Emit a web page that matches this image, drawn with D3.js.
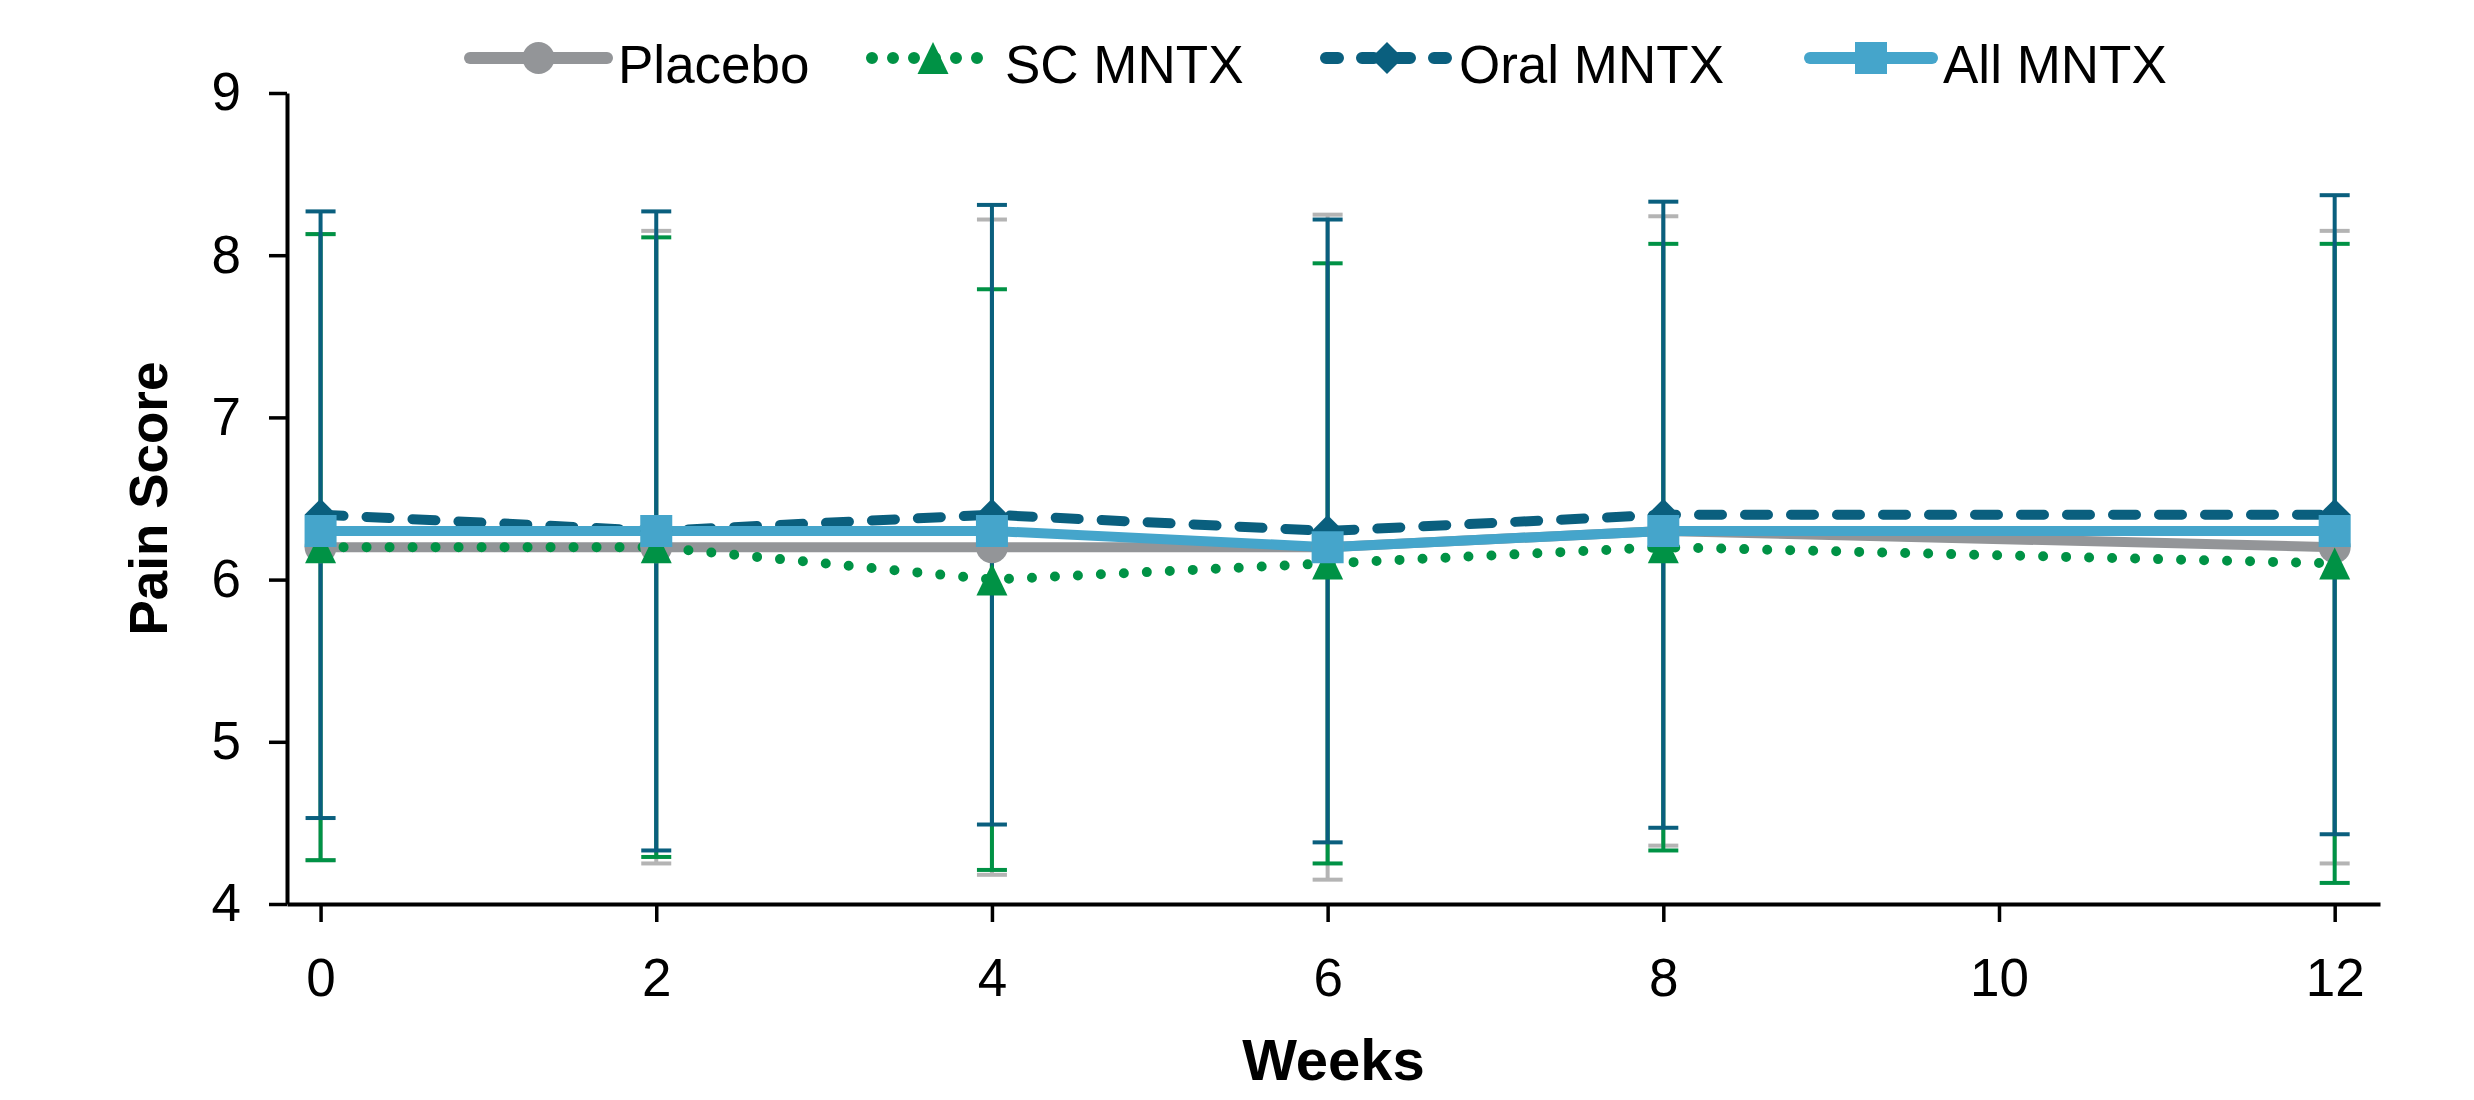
<!DOCTYPE html>
<html>
<head>
<meta charset="utf-8">
<script src="https://cdn.jsdelivr.net/npm/d3@7"></script>
<style>
  body { margin: 0; background: #fff; }
  text { font-family: "Liberation Sans", Arial, Helvetica, sans-serif; }
</style>
</head>
<body>
<svg id="chart"></svg>
<script>
// Weeks and values
const weeks = [0, 2, 4, 6, 8, 12];
const xTicks = [0, 2, 4, 6, 8, 10, 12];
const yTicks = [4, 5, 6, 7, 8, 9];

const placeboMean = [6.2, 6.2, 6.2, 6.2, 6.3, 6.2];
const placeboSD   = [1.93, 1.95, 2.02, 2.05, 1.94, 1.95];
const scMean      = [6.2, 6.2, 6.0, 6.1, 6.2, 6.1];
const scSD        = [1.93, 1.91, 1.79, 1.85, 1.87, 1.97];
const oralMean    = [6.4, 6.3, 6.4, 6.3, 6.4, 6.4];
const oralSD      = [1.87, 1.97, 1.91, 1.92, 1.93, 1.97];
const allMean     = [6.3, 6.3, 6.3, 6.2, 6.3, 6.3];

const seriesNames = ["Placebo", "SC MNTX", "Oral MNTX", "All MNTX"];

const config = {
  containerWidth: 2474,
  containerHeight: 1100,
  margin: { top: 93, right: 94, bottom: 196, left: 287 }
};
config.width = config.containerWidth - config.margin.left - config.margin.right;
config.height = config.containerHeight - config.margin.top - config.margin.bottom;

// shapes for the markers, centred on 0,0
const shapes = {
  circle: d3.symbol().type(d3.symbolCircle).size(Math.PI * 16 * 16)(),
  square: "M-16,-16H16V16H-16Z",
  triangle: "M0,-16L15.5,16L-15.5,16Z",
  diamond: "M0,-16L16,0L0,16L-16,0Z"
};

const series = [
  { name: seriesNames[0], mean: placeboMean, sd: placeboSD, color: "#939598", barColor: "#b4b4b4",
    dash: null, cap: "butt", shape: "circle" },
  { name: seriesNames[1], mean: scMean, sd: scSD, color: "#009245", barColor: "#009245",
    dash: "0,23", cap: "round", shape: "triangle" },
  { name: seriesNames[2], mean: oralMean, sd: oralSD, color: "#0a5f7e", barColor: "#0a5f7e",
    dash: "23,23", cap: "round", shape: "diamond" },
  { name: seriesNames[3], mean: allMean, sd: null, color: "#45a5cb", barColor: null,
    dash: null, cap: "butt", shape: "square" }
];

const svg = d3.select("#chart")
  .attr("width", config.containerWidth)
  .attr("height", config.containerHeight);

const chart = svg.append("g")
  .attr("transform", `translate(${config.margin.left},${config.margin.top})`);

const xScale = d3.scaleLinear()
  .domain([-0.2, 12.27])
  .range([0, config.width]);

const yScale = d3.scaleLinear()
  .domain([4, 9])
  .range([config.height, 0]);

// Axes
const xAxis = d3.axisBottom(xScale).tickValues(xTicks).tickFormat(d3.format("d"))
  .tickSize(18).tickSizeOuter(0).tickPadding(36);
const yAxis = d3.axisLeft(yScale).tickValues(yTicks).tickFormat(d3.format("d"))
  .tickSize(18).tickSizeOuter(0).tickPadding(28);

const xAxisG = chart.append("g")
  .attr("transform", `translate(0,${config.height})`)
  .call(xAxis);
const yAxisG = chart.append("g").call(yAxis);

[xAxisG, yAxisG].forEach(g => {
  g.selectAll(".domain").attr("stroke", "#000").attr("stroke-width", 4);
  g.selectAll(".tick line").attr("stroke", "#000").attr("stroke-width", 3.5);
  g.selectAll(".tick text").attr("font-size", 53).attr("fill", "#000")
    .style("font-family", '"Liberation Sans", Arial, sans-serif');
});

// Axis titles
chart.append("text")
  .attr("x", config.width / 2)
  .attr("y", 1080 - config.margin.top)
  .attr("text-anchor", "middle")
  .attr("font-size", 58)
  .attr("font-weight", "bold")
  .text("Weeks");

chart.append("text")
  .attr("transform", `translate(${167 - config.margin.left},${config.height / 2}) rotate(-90)`)
  .attr("text-anchor", "middle")
  .attr("font-size", 53)
  .attr("font-weight", "bold")
  .text("Pain Score");

// Error bars (mean +/- SD)
series.filter(s => s.sd).forEach(s => {
  const rows = weeks.map((w, i) => ({ w, lo: s.mean[i] - s.sd[i], hi: s.mean[i] + s.sd[i] }));
  const g = chart.append("g").attr("class", "errbar");
  g.selectAll(".stem").data(rows).join("line")
    .attr("x1", d => xScale(d.w)).attr("x2", d => xScale(d.w))
    .attr("y1", d => yScale(d.lo)).attr("y2", d => yScale(d.hi))
    .attr("stroke", s.barColor).attr("stroke-width", 4);
  g.selectAll(".cap").data(rows.flatMap(d => [{ w: d.w, v: d.lo }, { w: d.w, v: d.hi }])).join("line")
    .attr("x1", d => xScale(d.w) - 15).attr("x2", d => xScale(d.w) + 15)
    .attr("y1", d => yScale(d.v)).attr("y2", d => yScale(d.v))
    .attr("stroke", s.barColor).attr("stroke-width", 4);
});

// Lines
const line = d3.line().x(d => xScale(d.w)).y(d => yScale(d.v));
series.forEach(s => {
  chart.append("path")
    .datum(weeks.map((w, i) => ({ w, v: s.mean[i] })))
    .attr("d", line)
    .attr("fill", "none")
    .attr("stroke", s.color)
    .attr("stroke-width", 10)
    .attr("stroke-linecap", s.cap)
    .attr("stroke-dasharray", s.dash);
});

// Markers
series.forEach(s => {
  chart.selectAll(null)
    .data(weeks.map((w, i) => ({ w, v: s.mean[i] })))
    .join("path")
    .attr("transform", d => `translate(${xScale(d.w)},${yScale(d.v)})`)
    .attr("d", shapes[s.shape])
    .attr("fill", s.color);
});

// Legend
const legendX = [470, 872, 1326, 1810];
const legend = svg.append("g").attr("transform", "translate(0,58)");
series.forEach((s, i) => {
  const g = legend.append("g").attr("transform", `translate(${legendX[i]},0)`);
  const lineLen = i === 0 ? 137 : 122;
  g.append("line")
    .attr("x1", 0).attr("x2", lineLen)
    .attr("stroke", s.color).attr("stroke-width", 12)
    .attr("stroke-linecap", "round")
    .attr("stroke-dasharray", s.dash ? (s.dash === "0,23" ? "0,21" : "12,24") : null);
  g.append("path")
    .attr("transform", `translate(${lineLen / 2},0)`)
    .attr("d", shapes[s.shape])
    .attr("fill", s.color);
  g.append("text")
    .attr("x", lineLen + 11)
    .attr("y", 25)
    .attr("font-size", 53)
    .text(s.name);
});
</script>
</body>
</html>
